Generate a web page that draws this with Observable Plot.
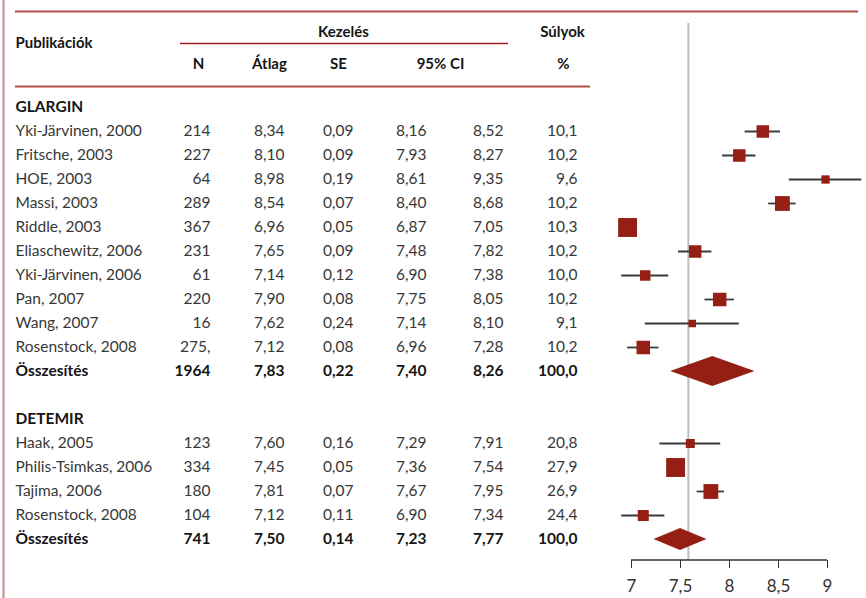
<!DOCTYPE html>
<html>
<head>
<meta charset="utf-8">
<script src="https://cdn.jsdelivr.net/npm/d3@7"></script>
<script src="https://cdn.jsdelivr.net/npm/@observablehq/plot@0.6"></script>
<style>
  html, body { margin: 0; padding: 0; background: #fff; }
  #chart svg { display: block; }
</style>
</head>
<body>
<div id="chart"></div>
<script>
// ---------- data ----------
const groupNames = ["GLARGIN", "DETEMIR"];
const totalLabel = "Összesítés";

const glarginStudies = ["Yki-Järvinen, 2000", "Fritsche, 2003", "HOE, 2003", "Massi, 2003", "Riddle, 2003",
  "Eliaschewitz, 2006", "Yki-Järvinen, 2006", "Pan, 2007", "Wang, 2007", "Rosenstock, 2008"];
const glarginN = ["214", "227", "64", "289", "367", "231", "61", "220", "16", "275,"];
const glarginMean = [8.34, 8.10, 8.98, 8.54, 6.96, 7.65, 7.14, 7.90, 7.62, 7.12];
const glarginSE = [0.09, 0.09, 0.19, 0.07, 0.05, 0.09, 0.12, 0.08, 0.24, 0.08];
const glarginLo = [8.16, 7.93, 8.61, 8.40, 6.87, 7.48, 6.90, 7.75, 7.14, 6.96];
const glarginHi = [8.52, 8.27, 9.35, 8.68, 7.05, 7.82, 7.38, 8.05, 8.10, 7.28];
const glarginWeight = [10.1, 10.2, 9.6, 10.2, 10.3, 10.2, 10.0, 10.2, 9.1, 10.2];
const glarginTotal = ["1964", 7.83, 0.22, 7.40, 8.26, 100.0];

const detemirStudies = ["Haak, 2005", "Philis-Tsimkas, 2006", "Tajima, 2006", "Rosenstock, 2008"];
const detemirN = ["123", "334", "180", "104"];
const detemirMean = [7.60, 7.45, 7.81, 7.12];
const detemirSE = [0.16, 0.05, 0.07, 0.11];
const detemirLo = [7.29, 7.36, 7.67, 6.90];
const detemirHi = [7.91, 7.54, 7.95, 7.34];
const detemirWeight = [20.8, 27.9, 26.9, 24.4];
const detemirTotal = ["741", 7.50, 0.14, 7.23, 7.77, 100.0];

const referenceValue = 7.58;
const axisTicks = [7, 7.5, 8, 8.5, 9];

const headerTop = ["Publikációk", "Kezelés", "Súlyok"];
const headerSub = ["N", "Átlag", "SE", "95% CI", "%"];

// ---------- build rows ----------
function buildGroup(name, studies, N, mean, se, lo, hi, w, total) {
  const out = [{id: name, label: name, kind: "group"}];
  studies.forEach((s, i) => out.push({id: name + ":" + i, label: s, n: N[i], mean: mean[i], se: se[i], lo: lo[i], hi: hi[i], w: w[i], kind: "study", group: name}));
  out.push({id: name + ":total", label: totalLabel, n: total[0], mean: total[1], se: total[2], lo: total[3], hi: total[4], w: total[5], kind: "total", group: name});
  return out;
}
const rows = [
  ...buildGroup(groupNames[0], glarginStudies, glarginN, glarginMean, glarginSE, glarginLo, glarginHi, glarginWeight, glarginTotal),
  {id: "gap", label: "", kind: "gap"},
  ...buildGroup(groupNames[1], detemirStudies, detemirN, detemirMean, detemirSE, detemirLo, detemirHi, detemirWeight, detemirTotal)
];
const studyRows = rows.filter(d => d.kind === "study");
const totalRows = rows.filter(d => d.kind === "total");
const boldRows = rows.filter(d => d.kind === "group" || d.kind === "total");

const comma = s => s.replace(".", ",");
const f2 = v => v == null ? "" : comma(d3.format(".2f")(v));
const f1 = v => v == null ? "" : comma(d3.format(".1f")(v));

// ---------- layout / style ----------
const W = 866, H = 598;
const M = {left: 631, right: 39, top: 23, bottom: 38};
const FONT = "Lato, 'Open Sans', sans-serif";
const darkRed = "#951f14";
const ruleRed = "#b3504a";
const BODY_SIZE = 15.5, HEAD_SIZE = 15;

const columns = [
  {value: d => d.label, x: 15, anchor: "start"},
  {value: d => d.n ?? "", x: 210, anchor: "end"},
  {value: d => f2(d.mean), x: 284, anchor: "end"},
  {value: d => f2(d.se), x: 353, anchor: "end"},
  {value: d => f2(d.lo), x: 426, anchor: "end"},
  {value: d => f2(d.hi), x: 503, anchor: "end"},
  {value: d => f1(d.w), x: 577, anchor: "end"}
];
const headerTopPos = [{x: 15, y: 43, a: "start"}, {x: 343, y: 32, a: "middle"}, {x: 562, y: 32, a: "middle"}];
const headerSubPos = [{x: 198, y: 64}, {x: 269, y: 64}, {x: 338, y: 64}, {x: 440, y: 64}, {x: 563, y: 64}];
const diamondHalf = {GLARGIN: 15, DETEMIR: 11};

const tableMarks = [];
columns.forEach(c => {
  tableMarks.push(Plot.text(studyRows, {y: "id", text: c.value, frameAnchor: "left", dx: c.x - M.left,
    textAnchor: c.anchor, lineAnchor: "middle", fontSize: BODY_SIZE, fill: "#383838"}));
  tableMarks.push(Plot.text(c === columns[0] ? boldRows : totalRows, {y: "id", text: c.value, frameAnchor: "left", dx: c.x - M.left,
    textAnchor: c.anchor, lineAnchor: "middle", fontSize: BODY_SIZE, fontWeight: "bold", fill: "#151515"}));
});
headerTop.forEach((t, i) => {
  const p = headerTopPos[i];
  tableMarks.push(Plot.text([t], {text: d => d, frameAnchor: "top-left", dx: p.x - M.left, dy: p.y - M.top,
    textAnchor: p.a, lineAnchor: "middle", fontSize: HEAD_SIZE, fontWeight: "bold", fill: "#151515"}));
});
headerSub.forEach((t, i) => {
  const p = headerSubPos[i];
  tableMarks.push(Plot.text([t], {text: d => d, frameAnchor: "top-left", dx: p.x - M.left, dy: p.y - M.top,
    textAnchor: "middle", lineAnchor: "middle", fontSize: HEAD_SIZE, fontWeight: "bold", fill: "#151515"}));
});

function decorations(index, scales, values, dims) {
  const g = d3.create("svg:g").attr("fill", "none");
  const line = (x1, y1, x2, y2, stroke, sw) => g.append("line").attr("x1", x1).attr("y1", y1).attr("x2", x2).attr("y2", y2)
    .attr("stroke", stroke).attr("stroke-width", sw);
  line(3.5, 0, 3.5, dims.height, "#c98a8a", 2);
  line(15, 11.5, 858, 11.5, ruleRed, 2);
  line(180, 43.5, 508, 43.5, "#a01e18", 1.5);
  line(15, 86.5, 590, 86.5, ruleRed, 2);
  return g.node();
}
function axisLine(index, scales, values, dims) {
  const g = d3.create("svg:g");
  const y = dims.height - dims.marginBottom;
  g.append("line").attr("x1", scales.x(axisTicks[0])).attr("x2", scales.x(axisTicks[axisTicks.length - 1]))
    .attr("y1", y).attr("y2", y).attr("stroke", "#333").attr("stroke-width", 1.5);
  return g.node();
}
function diamonds(index, scales, values, dims) {
  const g = d3.create("svg:g");
  for (const d of totalRows) {
    const cy = scales.y(d.id), h = diamondHalf[d.group];
    const pts = [[scales.x(d.lo), cy], [scales.x(d.mean), cy - h], [scales.x(d.hi), cy], [scales.x(d.mean), cy + h]];
    g.append("polygon").attr("points", pts.map(p => p.join(",")).join(" ")).attr("fill", darkRed);
  }
  return g.node();
}

const tickFormat = d => comma(String(d));
const hasAxisMark = typeof Plot.axisX === "function";
const axisMarks = hasAxisMark
  ? [Plot.axisX({ticks: axisTicks, tickFormat, tickSize: 8, tickPadding: 11, fontSize: 17, stroke: "#333", fill: "#333", label: null})]
  : [];

const chart = Plot.plot({
  width: W, height: H,
  marginLeft: M.left, marginRight: M.right, marginTop: M.top, marginBottom: M.bottom,
  style: {fontFamily: FONT, fontSize: "17px", color: "#333", background: "#fff"},
  x: hasAxisMark
    ? {domain: [axisTicks[0], axisTicks[axisTicks.length - 1]]}
    : {domain: [axisTicks[0], axisTicks[axisTicks.length - 1]], ticks: axisTicks, tickFormat, tickSize: 8, tickPadding: 11, label: null},
  y: {type: "point", domain: rows.map(d => d.id), range: [106, 539], padding: 0, axis: null},
  r: {type: "linear", domain: [0, 20], range: [2.54, 10.67]},
  marks: [
    decorations,
    Plot.ruleX([referenceValue], {stroke: "#bdbdbd", strokeWidth: 2}),
    Plot.ruleY(studyRows, {y: "id", x1: "lo", x2: "hi", stroke: "#3a3a3a", strokeWidth: 1.8}),
    Plot.dot(studyRows, {y: "id", x: "mean", r: d => 1 / d.se, symbol: "square", fill: darkRed, stroke: "none"}),
    diamonds,
    axisLine,
    ...axisMarks,
    ...tableMarks
  ]
});
document.getElementById("chart").appendChild(chart);
</script>
</body>
</html>
